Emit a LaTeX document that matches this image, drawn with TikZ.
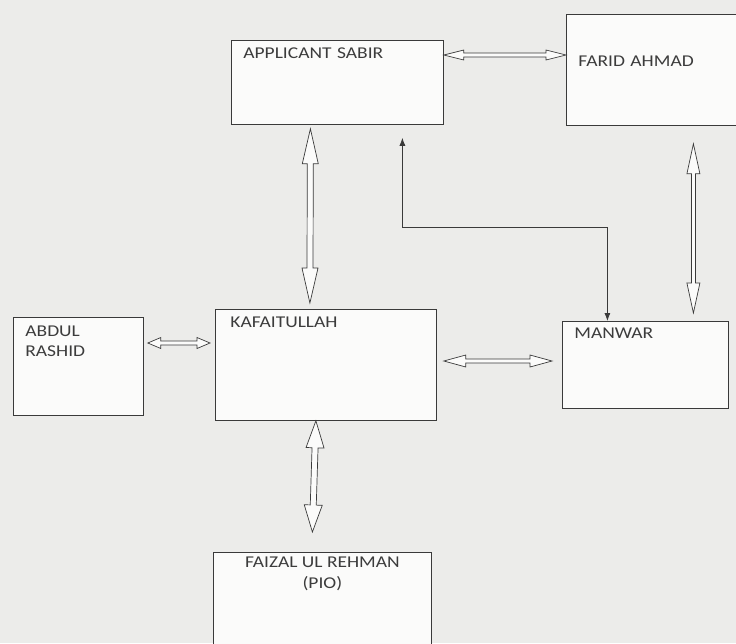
\documentclass[tikz,border=0pt]{standalone}
\usepackage{fontspec}
\setmainfont{Carlito}[FakeStretch=1.18]
\usetikzlibrary{arrows.meta,calc}
\definecolor{paper}{HTML}{ECECEA}
\definecolor{boxfill}{HTML}{FBFBFA}
\definecolor{ink}{HTML}{3A3A3A}
\definecolor{textgrey}{HTML}{3C3C3C}

\begin{document}
\begin{tikzpicture}[x=1pt, y=-1pt, ink,
    box/.style={draw=ink, line width=0.8pt, fill=boxfill, anchor=north west, align=left, inner xsep=12pt, inner ysep=7pt, text=textgrey, font=\fontsize{16.5}{20.5}\selectfont},
    hlen/.store in=\ArrHeadLen, hwid/.store in=\ArrHeadWid, swid/.store in=\ArrShaftWid,
    hlen=20pt, hwid=5pt, swid=2pt,
    twoway/.style={draw=ink, line width=0.7pt, fill=boxfill, line join=miter,
      to path={let \p1=($(\tikztotarget)-(\tikztostart)$), \n1={atan2(\y1,\x1)}, \n2={veclen(\x1,\y1)} in
        {[shift={(\tikztostart)}, rotate=\n1]
          (0pt,0pt) -- (\ArrHeadLen,\ArrHeadWid) -- (\ArrHeadLen,\ArrShaftWid) -- ({\n2-\ArrHeadLen},\ArrShaftWid)
          -- ({\n2-\ArrHeadLen},\ArrHeadWid) -- (\n2,0pt) -- ({\n2-\ArrHeadLen},-\ArrHeadWid)
          -- ({\n2-\ArrHeadLen},-\ArrShaftWid) -- (\ArrHeadLen,-\ArrShaftWid) -- (\ArrHeadLen,-\ArrHeadWid) -- cycle}}},
    link/.style={{Latex[length=8pt,width=6pt]}-{Latex[length=8pt,width=6pt]}, draw=ink, line width=0.8pt},
  ]
% --- Background ---------------------------------------------------------------
\fill[paper] (0,0) rectangle (736,643);
\useasboundingbox (0,0) rectangle (736,643);

% --- People -------------------------------------------------------------------
\node[box, text width=188pt, text height=11pt, text depth=59pt] (sabir) at (231,40) {APPLICANT SABIR};
\node[box, text width=166pt, text height=45pt, text depth=52pt] (farid) at (566,14) {FARID AHMAD};
\node[box, text width=106pt, text height=12pt, text depth=72pt] (abdul) at (13,317) {ABDUL\\RASHID};
\node[box, inner xsep=15pt, text width=191pt, text height=11pt, text depth=86pt] (kafa) at (215,309) {KAFAITULLAH};
\node[box, text width=142pt, text height=10pt, text depth=63pt] (manwar) at (562,321) {MANWAR};
\node[box, align=center, minimum width=218pt, text height=29pt, text depth=67pt] (faizal) at (213,552) {FAIZAL UL REHMAN\\(PIO)};

% --- Links --------------------------------------------------------------------
\draw[twoway] ([yshift=-15pt]sabir.north east) to ([yshift=-41pt]farid.north west);
\draw[twoway, hlen=35pt, hwid=8pt, swid=3pt] ([shift={(-27pt,-4pt)}]sabir.south) to ([shift={(-16pt,6pt)}]kafa.north);
\draw[twoway, hlen=30pt, hwid=6.5pt] ([shift={(32pt,-18pt)}]farid.south) to ([shift={(48pt,8pt)}]manwar.north);
\draw[twoway, hlen=13pt, hwid=5.5pt] ([shift={(4pt,-26pt)}]abdul.north east) to ([shift={(-5pt,-34pt)}]kafa.north west);
\draw[twoway, hlen=22pt, hwid=6pt] ([shift={(7pt,-52pt)}]kafa.north east) to ([shift={(-10pt,-40pt)}]manwar.north west);
\draw[twoway, hlen=27pt, hwid=9pt, swid=3pt] ([xshift=-10pt]kafa.south) to ([shift={(-10pt,20pt)}]faizal.north);
\draw[link] ([shift={(65pt,-13pt)}]sabir.south) -- ++(0,90) -| ([xshift=-38pt]manwar.north);
\end{tikzpicture}
\end{document}
